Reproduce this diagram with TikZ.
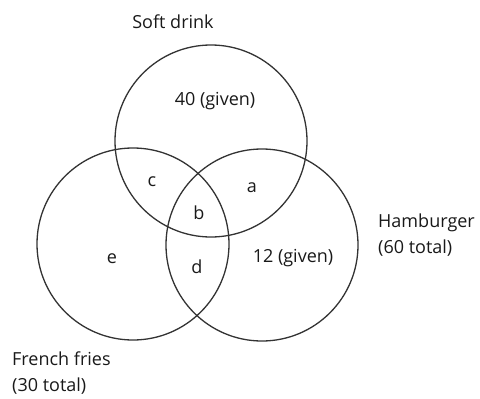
\documentclass[tikz,border=0pt]{standalone}
\usepackage{fontspec}
\setmainfont{Open Sans}
\begin{document}
\begin{tikzpicture}[x=1pt,y=-1pt,
  setc/.style={draw=black!80,line width=1.3pt,circle,minimum size=192pt,inner sep=0pt},
  lbl/.style={font=\fontsize{18}{26}\selectfont,text=black!90,inner sep=0pt},
  side/.style={lbl,align=left,anchor=west}]
\useasboundingbox (0,0) rectangle (480,399);
\node[setc] (soft) at (211,141) {};
\node[setc] (fries) at (133,244) {};
\node[setc] (ham) at (262,245) {};
\node[lbl] (softlbl) at (173,22) {Soft drink};
\node[lbl] (n40) at (215,101) {40 (given)};
\node[lbl] (c) at (152,182) {c};
\node[lbl] (a) at (252,188) {a};
\node[lbl] (b) at (199,213) {b};
\node[lbl] (e) at (112,259) {e};
\node[lbl] (d) at (197,267) {d};
\node[lbl] (n12) at (293,258) {12 (given)};
\node[side] (hamlbl) at (378,235) {Hamburger\\(60 total)};
\node[side] (frieslbl) at (12,373) {French fries\\(30 total)};
\end{tikzpicture}
\end{document}
